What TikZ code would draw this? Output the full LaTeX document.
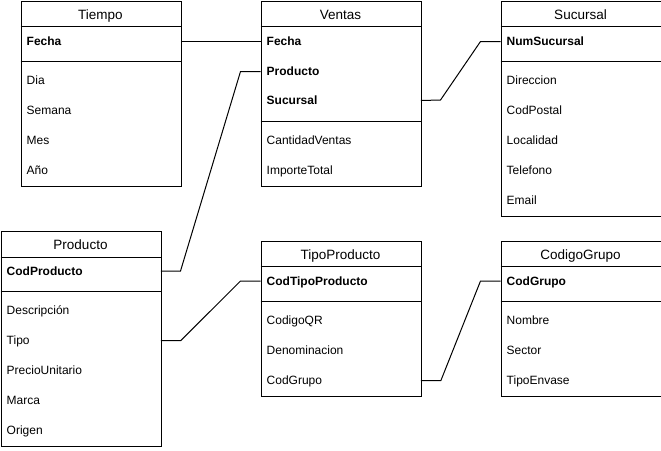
\documentclass[tikz,border=0pt]{standalone}
\usepackage{fontspec}
\setmainfont{Liberation Sans}
\begin{document}
\begin{tikzpicture}[x=1pt,y=-1pt,
  frame/.style={draw, line width=1pt, minimum width=160pt, inner sep=0pt, anchor=north west},
  title/.style={inner sep=0pt, font=\fontsize{13.5}{16}\selectfont, text height=12pt, text depth=2.5pt},
  row/.style={anchor=west, minimum width=160pt, text width=148pt, inner xsep=6pt, inner ysep=0pt, align=left,
    font=\fontsize{12}{14}\selectfont, text height=11pt, text depth=2.4pt},
  key/.style={row, font=\bfseries\fontsize{12}{14}\selectfont},
  divider/.style={line width=1pt},
  link/.style={line width=1pt}]
\useasboundingbox (0,0) rectangle (661,450);

% Tiempo
\node[frame, minimum height=185.5pt] (tiempo) at (20.5,0.5) {};
\node[title] (tiempo-t) at (100.5,14.5) {Tiempo};
\draw[divider] (20.5,26) -- (180.5,26);
\draw[divider] (20.5,61) -- (180.5,61);
\node[key] (t-fecha) at (20.5,41.5) {Fecha};
\node[row] (t-dia) at (20.5,80.5) {Dia};
\node[row] (t-semana) at (20.5,110.5) {Semana};
\node[row] (t-mes) at (20.5,140.5) {Mes};
\node[row] (t-anio) at (20.5,170.5) {Año};

% Ventas
\node[frame, minimum height=185.5pt] (ventas) at (260.5,0.5) {};
\node[title] (ventas-t) at (340.5,14.5) {Ventas};
\draw[divider] (260.5,26) -- (420.5,26);
\draw[divider] (260.5,121) -- (420.5,121);
\node[key] (v-fecha) at (260.5,41.5) {Fecha};
\node[key] (v-producto) at (260.5,71.5) {Producto};
\node[key] (v-sucursal) at (260.5,100.5) {Sucursal};
\node[row] (v-cantidad) at (260.5,140.5) {CantidadVentas};
\node[row] (v-importe) at (260.5,170.5) {ImporteTotal};

% Sucursal
\node[frame, minimum height=215.5pt] (sucursal) at (500.5,0.5) {};
\node[title] (sucursal-t) at (580.5,14.5) {Sucursal};
\draw[divider] (500.5,26) -- (660.5,26);
\draw[divider] (500.5,61) -- (660.5,61);
\node[key] (s-num) at (500.5,41.5) {NumSucursal};
\node[row] (s-dir) at (500.5,80.5) {Direccion};
\node[row] (s-cp) at (500.5,110.5) {CodPostal};
\node[row] (s-loc) at (500.5,140.5) {Localidad};
\node[row] (s-tel) at (500.5,170.5) {Telefono};
\node[row] (s-email) at (500.5,200.5) {Email};

% Producto
\node[frame, minimum height=215.5pt] (producto) at (0.5,230.5) {};
\node[title] (producto-t) at (80.5,245) {Producto};
\draw[divider] (0.5,257) -- (160.5,257);
\draw[divider] (0.5,291) -- (160.5,291);
\node[key] (p-cod) at (0.5,271) {CodProducto};
\node[row] (p-desc) at (0.5,310.5) {Descripción};
\node[row] (p-tipo) at (0.5,340.5) {Tipo};
\node[row] (p-precio) at (0.5,370.5) {PrecioUnitario};
\node[row] (p-marca) at (0.5,400.5) {Marca};
\node[row] (p-origen) at (0.5,430.5) {Origen};

% TipoProducto
\node[frame, minimum height=155.5pt] (tipoproducto) at (260.5,240.5) {};
\node[title] (tipoproducto-t) at (340.5,255) {TipoProducto};
\draw[divider] (260.5,266.5) -- (420.5,266.5);
\draw[divider] (260.5,301) -- (420.5,301);
\node[key] (tp-cod) at (260.5,281) {CodTipoProducto};
\node[row] (tp-qr) at (260.5,320.5) {CodigoQR};
\node[row] (tp-den) at (260.5,350.5) {Denominacion};
\node[row] (tp-grupo) at (260.5,380.5) {CodGrupo};

% CodigoGrupo
\node[frame, minimum height=155.5pt] (codigogrupo) at (500.5,240.5) {};
\node[title] (codigogrupo-t) at (580.5,255) {CodigoGrupo};
\draw[divider] (500.5,266.5) -- (660.5,266.5);
\draw[divider] (500.5,301) -- (660.5,301);
\node[key] (cg-cod) at (500.5,281) {CodGrupo};
\node[row] (cg-nombre) at (500.5,320.5) {Nombre};
\node[row] (cg-sector) at (500.5,350.5) {Sector};
\node[row] (cg-envase) at (500.5,380.5) {TipoEnvase};

% Connectors
\draw[link] (t-fecha.east) -- (v-fecha.west);
\draw[link] (v-producto.west) -- ++(-20,0) -- (180.5,271) -- (p-cod.east);
\draw[link] (v-sucursal.east) -- (440.5,100) -- (480.5,41.5) -- (s-num.west);
\draw[link] (p-tipo.east) -- ++(20,0) -- (240.5,281) -- (tp-cod.west);
\draw[link] (tp-grupo.east) -- ++(20,0) -- (480.5,281) -- (cg-cod.west);
\end{tikzpicture}
\end{document}
